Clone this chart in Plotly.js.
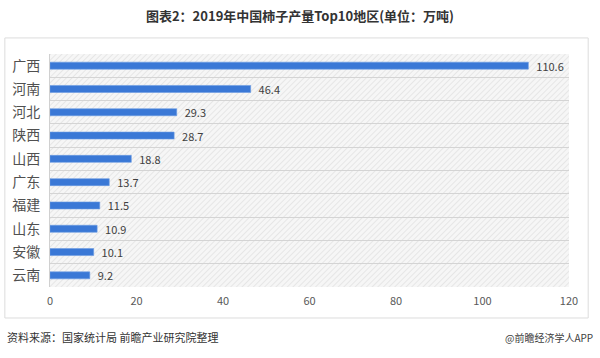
<!DOCTYPE html>
<html>
<head>
<meta charset="utf-8">
<script src="https://cdn.plot.ly/plotly-3.0.1.min.js"></script>
<style>html,body{margin:0;padding:0;background:#fff;}#chart{width:600px;height:358px;}</style>
</head>
<body>
<div id="chart"></div>
<script>
const regions = ["广西","河南","河北","陕西","山西","广东","福建","山东","安徽","云南"];
const output = [110.6, 46.4, 29.3, 28.7, 18.8, 13.7, 11.5, 10.9, 10.1, 9.2];
const xTicks = [0, 20, 40, 60, 80, 100, 120];

const hatchSvg = '<svg xmlns="http://www.w3.org/2000/svg" width="519" height="233">' +
  '<defs><pattern id="p" width="4" height="4" patternUnits="userSpaceOnUse" patternTransform="rotate(45)">' +
  '<rect width="4" height="4" fill="#f6f6f6"/><line x1="0" y1="0" x2="0" y2="4" stroke="#dcdcdc" stroke-width="1.2"/></pattern></defs>' +
  '<rect width="519" height="233" fill="url(#p)"/></svg>';
const hatchUri = 'data:image/svg+xml;charset=utf-8,' + encodeURIComponent(hatchSvg);

const font = '"Noto Sans CJK SC", "Noto Sans", sans-serif';

const trace = {
  type: 'bar',
  orientation: 'h',
  y: regions,
  x: output,
  width: 0.3,
  marker: {color: '#3a78d6', line: {color: '#6a9be3', width: 0.6}},
  text: output.map(v => '\u00a0\u00a0' + v.toFixed(1)),
  textposition: 'outside',
  constraintext: 'none',
  textfont: {size: 11, color: '#404040', family: font},
  cliponaxis: false,
  hoverinfo: 'x+y'
};

const layout = {
  width: 600, height: 358,
  margin: {l: 50, r: 31, t: 54, b: 71},
  paper_bgcolor: '#ffffff',
  plot_bgcolor: 'rgba(0,0,0,0)',
  showlegend: false,
  title: {
    text: '<b>图表2：2019年中国柿子产量Top10地区(单位：万吨)</b>',
    font: {size: 13, color: '#333333', family: font},
    x: 0.5, xanchor: 'center', y: 0.955, yanchor: 'middle'
  },
  xaxis: {
    range: [0, 120],
    tickvals: xTicks,
    ticktext: xTicks.map(String),
    showgrid: false, zeroline: false, showline: false,
    ticks: '', ticklabelstandoff: 6,
    tickfont: {size: 11, color: '#595959', family: font}
  },
  yaxis: {
    type: 'category',
    autorange: 'reversed',
    showgrid: false, zeroline: false,
    showline: true, linecolor: '#d0d0d0', linewidth: 1,
    ticks: '', ticklabelstandoff: 6,
    tickfont: {size: 14, color: '#505050', family: font}
  },
  yaxis2: {
    overlaying: 'y',
    range: [regions.length - 0.5, -0.5],
    tick0: 0.5, dtick: 1,
    showgrid: true, gridcolor: '#d4d4d4', gridwidth: 1,
    showticklabels: false, zeroline: false, ticks: ''
  },
  images: [{
    source: hatchUri, xref: 'paper', yref: 'paper',
    x: 0, y: 1, sizex: 1, sizey: 1, sizing: 'stretch',
    xanchor: 'left', yanchor: 'top', layer: 'below'
  }],
  shapes: [{
    type: 'rect', xref: 'paper', yref: 'paper',
    x0: -0.087, x1: 1.037, y0: -0.133, y1: 1.069,
    line: {color: '#dcdcdc', width: 1}, fillcolor: 'rgba(0,0,0,0)', layer: 'below'
  }],
  annotations: [
    {text: '资料来源：国家统计局 前瞻产业研究院整理', xref: 'paper', yref: 'paper',
     x: -0.087, y: -0.215, xanchor: 'left', yanchor: 'middle', showarrow: false,
     font: {size: 11, color: '#333333', family: font}},
    {text: '@前瞻经济学人APP', xref: 'paper', yref: 'paper',
     x: 1.05, y: -0.215, xanchor: 'right', yanchor: 'middle', showarrow: false,
     font: {size: 10, color: '#404040', family: font}}
  ]
};

const gridTrace = {type: 'scatter', x: [null], y: [null], yaxis: 'y2', hoverinfo: 'skip', showlegend: false};

Plotly.newPlot('chart', [gridTrace, trace], layout, {displayModeBar: false, staticPlot: true});
</script>
</body>
</html>
